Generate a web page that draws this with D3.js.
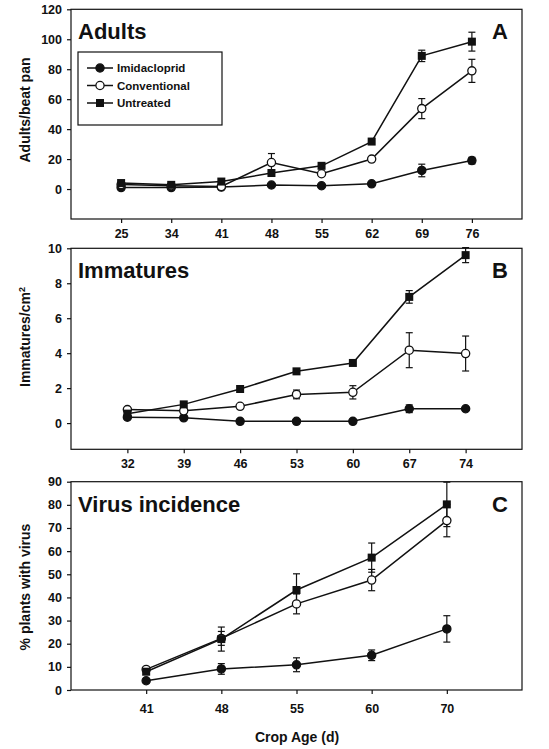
<!DOCTYPE html>
<html>
<head>
<meta charset="utf-8">
<script src="https://cdn.jsdelivr.net/npm/d3@7"></script>
<style>
  body { margin: 0; background: #fff; }
  svg text { font-family: "Liberation Sans", Arial, sans-serif; fill: #111; }
</style>
</head>
<body>
<script>
// panel A - adults
const agesA = ["25", "34", "41", "48", "55", "62", "69", "76"];
const imidA = [1, 1, 1.3, 2.7, 2.2, 3.5, 12.4, 19];
const imidAErr = [0, 0, 0, 0, 0, 0, 4.2, 2.2];
const convA = [3, 2.2, 1.7, 17.7, 10.2, 20, 53.7, 78.9];
const convAErr = [0, 0, 0, 6, 0, 0, 6.7, 7.7];
const untrA = [4, 2.8, 5, 10.7, 15.5, 31.7, 88.9, 98.4];
const untrAErr = [0, 0, 0, 0, 0, 0, 3.8, 6.3];

// panel B - immatures
const agesB = ["32", "39", "46", "53", "60", "67", "74"];
const imidB = [0.34, 0.3, 0.1, 0.1, 0.1, 0.82, 0.82];
const imidBErr = [0, 0, 0, 0, 0, 0.22, 0];
const convB = [0.77, 0.7, 0.96, 1.64, 1.76, 4.17, 3.98];
const convBErr = [0, 0, 0, 0.25, 0.38, 1.0, 1.0];
const untrB = [0.54, 1.07, 1.95, 2.96, 3.44, 7.22, 9.61];
const untrBErr = [0, 0, 0, 0, 0, 0.36, 0.43];

// panel C - virus incidence
const agesC = ["41", "48", "55", "60", "70"];
const imidC = [4, 9.1, 10.9, 15, 26.4];
const imidCErr = [0, 2.3, 3, 2.3, 5.7];
const convC = [8.9, 22.3, 37.2, 47.5, 73.2];
const convCErr = [0, 3, 4.3, 4.6, 7];
const untrC = [7.9, 22, 43.2, 57.2, 80.2];
const untrCErr = [0, 5.2, 7, 6.3, 9.6];

const seriesNames = ["Imidacloprid", "Conventional", "Untreated"];

const W = 549, H = 749;
const left = 71, right = 522;

const svg = d3.select("body").append("svg")
  .attr("width", W)
  .attr("height", H);

const panels = [
  {ages: agesA, top: 9.3, bottom: 219, domain: [-20, 120], ticks: d3.range(0, 121, 20),
   series: [[imidA, imidAErr], [convA, convAErr], [untrA, untrAErr]],
   title: "Adults", letter: "A", ylabel: "Adults/beat pan", labelY: 110},
  {ages: agesB, top: 248.3, bottom: 449.3, domain: [-1.5, 10], ticks: d3.range(0, 11, 2),
   series: [[imidB, imidBErr], [convB, convBErr], [untrB, untrBErr]],
   title: "Immatures", letter: "B", ylabel: "Immatures/cm", sup: "2", labelY: 337},
  {ages: agesC, top: 481.7, bottom: 690, domain: [0, 90], ticks: d3.range(0, 91, 10),
   series: [[imidC, imidCErr], [convC, convCErr], [untrC, untrCErr]],
   title: "Virus incidence", letter: "C", ylabel: "% plants with virus", labelY: 587}
];

function marker(g, kind, cx, cy) {
  if (kind === 2) {
    g.append("rect")
      .attr("x", cx - 4).attr("y", cy - 4)
      .attr("width", 8).attr("height", 8)
      .attr("fill", "#111");
  } else {
    g.append("circle")
      .attr("cx", cx).attr("cy", cy).attr("r", 4.1)
      .attr("fill", kind === 1 ? "#fff" : "#111")
      .attr("stroke", "#111").attr("stroke-width", 1.3);
  }
}

panels.forEach((p, pi) => {
  const x = d3.scalePoint().domain(p.ages).range([left, right]).padding(1);
  const y = d3.scaleLinear().domain(p.domain).range([p.bottom, p.top]);
  const g = svg.append("g");

  // frame
  g.append("rect")
    .attr("x", left).attr("y", p.top)
    .attr("width", right - left).attr("height", p.bottom - p.top)
    .attr("fill", "none").attr("stroke", "#111").attr("stroke-width", 1.2);

  // y axis
  const yAxis = g.append("g")
    .attr("transform", `translate(${left},0)`)
    .call(d3.axisLeft(y).tickValues(p.ticks).tickSize(4).tickPadding(5));
  yAxis.select(".domain").remove();
  yAxis.selectAll("line").attr("stroke", "#111").attr("stroke-width", 1.2);
  yAxis.selectAll("text").attr("font-size", 12.5).attr("font-weight", "bold");

  // x axis
  const xAxis = g.append("g")
    .attr("transform", `translate(0,${p.bottom})`)
    .call(d3.axisBottom(x).tickSize(4).tickPadding(pi === 2 ? 10 : 6));
  xAxis.select(".domain").remove();
  xAxis.selectAll("line").attr("stroke", "#111").attr("stroke-width", 1.2);
  xAxis.selectAll("text").attr("font-size", 12.5).attr("font-weight", "bold");

  // titles
  g.append("text")
    .attr("x", left + 7).attr("y", p.top + 30)
    .attr("font-size", 22).attr("font-weight", "bold")
    .text(p.title);
  g.append("text")
    .attr("x", right - 14).attr("y", p.top + 30)
    .attr("text-anchor", "end")
    .attr("font-size", 22).attr("font-weight", "bold")
    .text(p.letter);

  // y label
  const yl = g.append("text")
    .attr("transform", `translate(30,${p.labelY}) rotate(-90)`)
    .attr("text-anchor", "middle")
    .attr("font-size", 14).attr("font-weight", "bold")
    .text(p.ylabel);
  if (p.sup) {
    yl.append("tspan").attr("dy", -5).attr("font-size", 9).text(p.sup);
  }

  const line = d3.line()
    .x((d, i) => x(p.ages[i]))
    .y(d => y(d));

  p.series.forEach(([vals, errs]) => {
    g.append("path")
      .datum(vals)
      .attr("fill", "none")
      .attr("stroke", "#111")
      .attr("stroke-width", 1.5)
      .attr("d", line);

    vals.forEach((v, i) => {
      if (!errs[i]) return;
      const cx = x(p.ages[i]);
      const y1 = y(v + errs[i]), y2 = y(v - errs[i]);
      g.append("line").attr("x1", cx).attr("x2", cx).attr("y1", y1).attr("y2", y2)
        .attr("stroke", "#111").attr("stroke-width", 1.2);
      [y1, y2].forEach(yy => g.append("line")
        .attr("x1", cx - 3.5).attr("x2", cx + 3.5).attr("y1", yy).attr("y2", yy)
        .attr("stroke", "#111").attr("stroke-width", 1.2));
    });
  });

  p.series.forEach(([vals], si) => {
    vals.forEach((v, i) => marker(g, si, x(p.ages[i]), y(v)));
  });

  // legend only in A
  if (pi === 0) {
    const lg = g.append("g");
    lg.append("rect")
      .attr("x", 78).attr("y", 52).attr("width", 144).attr("height", 73)
      .attr("fill", "#fff").attr("stroke", "#111").attr("stroke-width", 1.2);
    seriesNames.forEach((name, si) => {
      const yy = 68 + si * 17.5;
      lg.append("line").attr("x1", 87).attr("x2", 113).attr("y1", yy).attr("y2", yy)
        .attr("stroke", "#111").attr("stroke-width", 1.5);
      marker(lg, si, 100, yy);
      lg.append("text")
        .attr("x", 117).attr("y", yy + 4)
        .attr("font-size", 11.5).attr("font-weight", "bold")
        .text(name);
    });
  }
});

svg.append("text")
  .attr("x", 297).attr("y", 742)
  .attr("text-anchor", "middle")
  .attr("font-size", 14).attr("font-weight", "bold")
  .text("Crop Age (d)");
</script>
</body>
</html>
